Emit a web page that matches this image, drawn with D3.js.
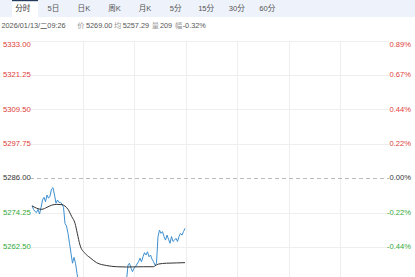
<!DOCTYPE html>
<html>
<head>
<meta charset="utf-8">
<script src="https://cdn.jsdelivr.net/npm/d3@7/dist/d3.min.js"></script>
<style>
html,body{margin:0;padding:0;background:#fff;overflow:hidden;}
svg{display:block;font-family:"Liberation Sans",Arial,"Noto Sans CJK SC",sans-serif;}
</style>
</head>
<body>
<svg id="chart" width="415" height="277"></svg>
<script>
// ---- data ----
const tabs = ["分时","5日","日K","周K","月K","5分","15分","30分","60分"];
const infoDate = "2026/01/13/二09:26";
const infoItems = [["价","5269.00"],["均","5257.29"],["量","209"],["幅","-0.32%"]];
const prevClose = 5286.00;
const priceTicks = [5333.00,5321.25,5309.50,5297.75,5286.00,5274.25,5262.50];
const pctTicks = ["0.89%","0.67%","0.44%","0.22%","0.00%","-0.22%","-0.44%"];
// one value per minute, starting 09:30
const price = [
5276.7,5275.5,5274.8,5274.4,5275.5,5273.9,5276.0,5278.7,5279.6,5278.1,
5280.4,5279.3,5280.0,5282.4,5282.9,5280.4,5277.6,5278.7,5277.8,5277.9,
5277.3,5276.2,5270.7,5269.8,5267.3,5263.9,5260.5,5257.1,5259.1,5257.1,
5253.6,5250.2,5248.5,5247.1,5248.0,5245.6,5244.2,5245.9,5243.1,5241.8,
5243.5,5244.7,5242.3,5240.6,5242.0,5243.9,5245.2,5243.8,5245.6,5247.3,
5246.1,5248.2,5249.5,5247.9,5249.0,5250.6,5248.8,5250.3,5251.4,5249.7,
5250.8,5251.9,5250.5,5251.2,5256.5,5257.1,5255.4,5254.2,5255.4,5255.9,
5256.8,5257.6,5258.8,5257.6,5259.3,5260.7,5259.9,5261.0,5259.3,5259.9,
5258.5,5257.6,5256.5,5257.1,5266.2,5268.4,5267.3,5267.9,5266.2,5265.0,
5266.7,5265.3,5263.9,5266.2,5264.5,5265.0,5265.6,5264.5,5266.2,5267.3,
5266.7,5267.9,5269.0
];
const avgMinutes = [0,3,6.5,10,13,16.5,20,22,24,26.5,28.7,30.2,32,35.3,38.7,43,49.8,56.5,63,74.2,80.9,82,84.2,89.8,96.5,102];
const avgValues  = [5276.7,5275.9,5275.5,5276.2,5276.9,5277.2,5277.1,5276.6,5275.5,5273.0,5270.7,5267.3,5263.3,5260.5,5259.0,5257.3,5256.3,5255.9,5255.8,5255.9,5255.9,5256.2,5256.8,5257.1,5257.2,5257.29];

// ---- drawing ----
const svg = d3.select("#chart");
const W = 415;
const plotTop = 41, plotLeft = 32, plotRight = 392;
const x = d3.scaleLinear().domain([0,240]).range([plotLeft, plotRight]);
const y = d3.scaleLinear().domain([5239,5333]).range([plotTop + 8*34.4, plotTop]);

// header tab bar
svg.append("rect").attr("x",0).attr("y",0).attr("width",W).attr("height",17).attr("fill","#eef2fa");
const tabX = d3.scalePoint().domain(tabs).range([22.8, 267.3]);
svg.append("rect").attr("x",12).attr("y",0).attr("width",26).attr("height",17).attr("fill","#fff");
svg.append("rect").attr("x",12).attr("y",0).attr("width",26).attr("height",1.2).attr("fill","#23395d");
svg.selectAll("text.tab").data(tabs).join("text").attr("class","tab")
  .attr("x", d=>tabX(d)).attr("y", 11.2).attr("text-anchor","middle")
  .attr("font-size", 7.6).attr("fill", (d,i)=> i===0 ? "#333" : "#555").text(d=>d);

// info line
const info = svg.append("text").attr("y", 27.6).attr("font-size", 7.3).attr("fill","#555");
info.append("tspan").attr("x", 1.5).text(infoDate);
const infoLabelX = [77.3, 114, 151.7, 175];
const infoValX = [86, 122.7, 160, 182.7];
infoItems.forEach((d,i)=>{
  info.append("tspan").attr("x", infoLabelX[i]).attr("fill","#999").text(d[0]);
  info.append("tspan").attr("x", infoValX[i]).text(d[1]);
});

// grid
const g = svg.append("g");
const vTicks = d3.range(1,7).map(k=>k*240/7);
g.selectAll("line.v").data(vTicks).join("line")
  .attr("x1", d=>x(d)).attr("x2", d=>x(d)).attr("y1", plotTop).attr("y2", 400)
  .attr("stroke","#eeeeee").attr("stroke-width",1).attr("shape-rendering","crispEdges");
g.selectAll("line.h").data(priceTicks).join("line")
  .attr("x1", plotLeft - 2).attr("x2", plotRight - 3).attr("y1", d=>y(d)).attr("y2", d=>y(d))
  .attr("stroke", d=> d===prevClose ? "#bbbbbb" : "#eeeeee")
  .attr("stroke-dasharray", d=> d===prevClose ? "4,3" : null)
  .attr("stroke-width",1).attr("shape-rendering","crispEdges");

const col = v => v > prevClose ? "#e0403a" : (v < prevClose ? "#33a83a" : "#333");
svg.selectAll("text.yl").data(priceTicks).join("text")
  .attr("x", 3).attr("y", (d,i)=> y(d) + (i===0 ? 5.6 : 1.8))
  .attr("font-size", 7.7).attr("fill", d=>col(d)).text(d=>d.toFixed(2));
svg.selectAll("text.yr").data(priceTicks).join("text")
  .attr("x", 411).attr("text-anchor","end").attr("y", (d,i)=> y(d) + (i===0 ? 5.6 : 1.8))
  .attr("font-size", 7.6).attr("fill", d=>col(d)).text((d,i)=>pctTicks[i]);

// lines
const priceLine = d3.line().x((d,i)=>x(i)).y(d=>y(d));
svg.append("path").attr("d", priceLine(price)).attr("fill","none")
  .attr("stroke","#3d8fcf").attr("stroke-width",1);
const avgLine = d3.line().x((d,i)=>x(avgMinutes[i])).y(d=>y(d)).curve(d3.curveMonotoneX);
svg.append("path").attr("d", avgLine(avgValues)).attr("fill","none")
  .attr("stroke","#333").attr("stroke-width",1);
</script>
</body>
</html>
